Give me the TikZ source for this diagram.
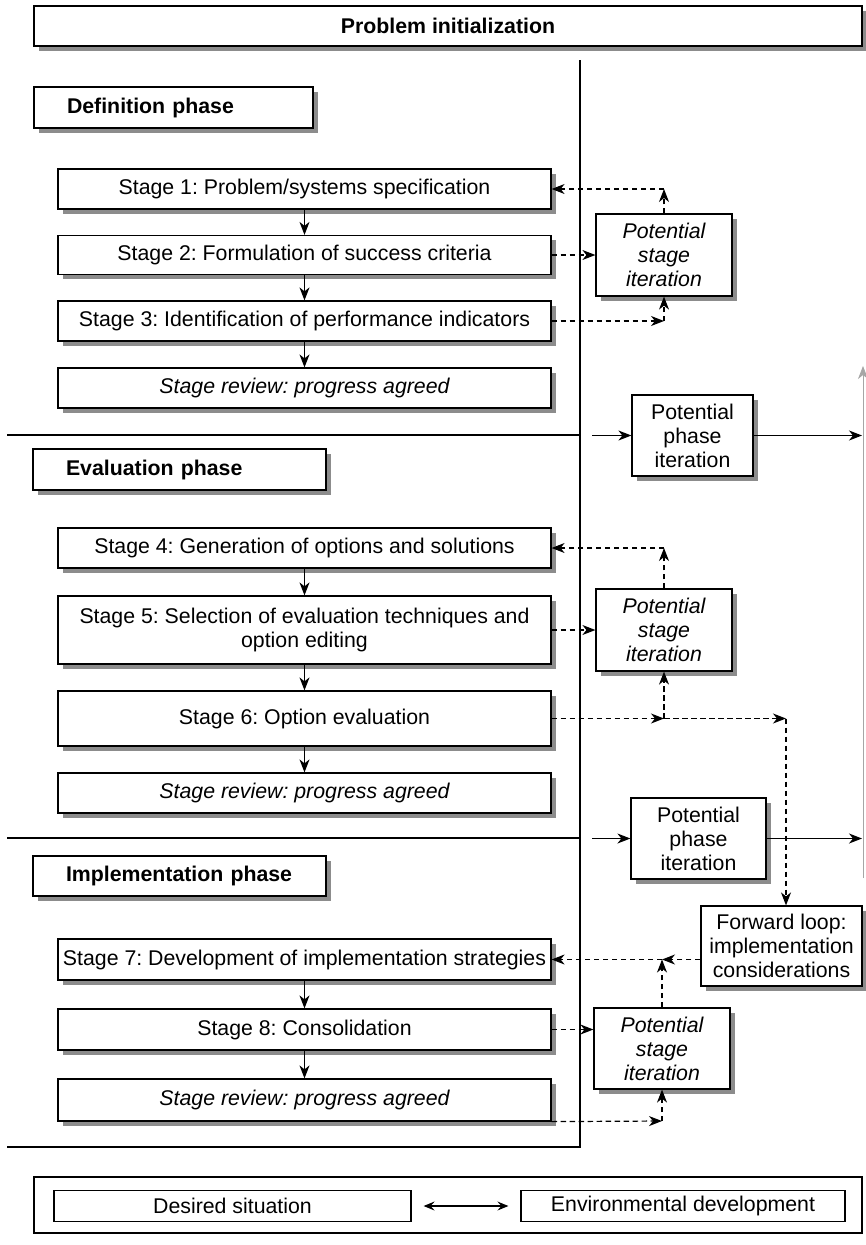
\documentclass[tikz,border=0pt]{standalone}
\usepackage{fontspec}
\setmainfont{Liberation Sans}
\usetikzlibrary{arrows.meta,shadows,positioning}
\newcommand{\dfont}{\fontsize{21.3}{24}\selectfont\frenchspacing}
\tikzset{
  boxshadow/.style={drop shadow={shadow xshift=4.5pt,shadow yshift=-4.5pt,fill=black!45,opacity=1}},
  box/.style={draw,line width=1.2pt,fill=white,inner sep=0pt,align=center,font=\dfont,boxshadow},
  phasebox/.style={box,font=\dfont\bfseries,align=left,execute at begin node=\hspace*{33pt}},
  flatbox/.style={draw,line width=1.2pt,fill=white,inner sep=0pt,align=center,font=\dfont},
  stagebox/.style={box,minimum width=493pt},
  iterbox/.style={box,font=\dfont\itshape,minimum width=136pt},
  tip/.style={-{Stealth[length=13pt,width=10pt,inset=4pt]}},
  flow/.style={tip,line width=1.2pt},
  loop/.style={tip,line width=1.2pt,dash pattern=on 5.5pt off 3.5pt},
  rule/.style={line width=1.3pt}
}
\begin{document}
\begin{tikzpicture}[x=1pt,y=-1pt]
\useasboundingbox (0,0) rectangle (865,1245);

% frame lines separating the phases
\draw[rule] (580,60) -- (580,1147) -- (7,1147);
\draw[rule] (7,435) -- (580,435);
\draw[rule] (7,838) -- (580,838);

% header
\node[box,font=\dfont\bfseries,minimum width=828pt,minimum height=40pt] (init) at (448,26) {Problem initialization};

% definition phase
\node[phasebox,text width=279pt,minimum height=41pt] (defph) at (173.5,107.5) {Definition phase};
\node[stagebox,minimum height=40pt] (s1) at (304.5,189) {Stage 1: Problem/systems specification};
\node[stagebox,minimum height=39pt] (s2) at (304.5,255) {Stage 2: Formulation of success criteria};
\node[stagebox,minimum height=40pt] (s3) at (304.5,321) {Stage 3: Identification of performance indicators};
\node[stagebox,minimum height=40pt,font=\dfont\itshape] (r1) at (304.5,388) {Stage review: progress agreed};

% evaluation phase
\node[phasebox,text width=293pt,minimum height=41pt] (evph) at (179.5,469.5) {Evaluation phase};
\node[stagebox,minimum height=40pt] (s4) at (304.5,548) {Stage 4: Generation of options and solutions};
\node[stagebox,minimum height=68pt] (s5) at (304.5,630) {Stage 5: Selection of evaluation techniques and\\option editing};
\node[stagebox,minimum height=55pt] (s6) at (304.5,718.5) {Stage 6: Option evaluation};
\node[stagebox,minimum height=40pt,font=\dfont\itshape] (r2) at (304.5,793) {Stage review: progress agreed};

% implementation phase
\node[phasebox,text width=293pt,minimum height=40pt] (imph) at (179.5,876) {Implementation phase};
\node[stagebox,minimum height=41pt] (s7) at (304.5,959.5) {Stage 7: Development of implementation strategies};
\node[stagebox,minimum height=41pt] (s8) at (304.5,1029.5) {Stage 8: Consolidation};
\node[stagebox,minimum height=42pt,font=\dfont\itshape] (r3) at (304.5,1100) {Stage review: progress agreed};

% iteration boxes
\node[iterbox,minimum height=82pt] (it1) at (664,255) {Potential\\stage\\iteration};
\node[iterbox,minimum height=82pt] (it2) at (664,630) {Potential\\stage\\iteration};
\node[iterbox,minimum height=81pt] (it3) at (662,1048.5) {Potential\\stage\\iteration};
\node[box,minimum width=121pt,minimum height=81pt] (ph1) at (692.5,435.5) {Potential\\phase\\iteration};
\node[box,minimum width=135pt,minimum height=81pt] (ph2) at (698.5,838.5) {Potential\\phase\\iteration};
\node[box,minimum width=161pt,minimum height=80pt] (fwd) at (781.5,946) {Forward loop:\\implementation\\considerations};

% stage sequence
\foreach \a/\b in {s1/s2,s2/s3,s3/r1,s4/s5,s5/s6,s6/r2,s7/s8,s8/r3}
  \draw[flow] (\a.south) -- (\b.north);

% phase iteration
\coordinate (p1in) at (592,435.5);
\coordinate (p1out) at (862,435.5);
\coordinate (p2in) at (592,838.5);
\coordinate (p2out) at (862,838.5);
\draw[flow] (p1in) -- (ph1.west);
\draw[flow] (ph1.east) -- (p1out);
\draw[flow] (p2in) -- (ph2.west);
\draw[flow] (ph2.east) -- (p2out);

% return path along the right edge
\coordinate (rb) at (863,878);
\coordinate (rt) at (863,366);
\draw[tip,line width=0.8pt,black!35] (rb) -- (rt);

% stage iteration loops, definition phase
\coordinate (j1) at (664,189);
\coordinate (j3) at (664,321);
\draw[loop] (it1.north) -- (j1);
\draw[loop] (j1) -- (s1.east);
\draw[loop] (s2.east) -- (it1.west);
\draw[loop] (s3.east) -- (j3);
\draw[loop] (j3) -- (it1.south);

% stage iteration loops, evaluation phase
\coordinate (j4) at (664,548);
\coordinate (j6) at (664,718.5);
\coordinate (j6b) at (786,718.5);
\draw[loop] (it2.north) -- (j4);
\draw[loop] (j4) -- (s4.east);
\draw[loop] (s5.east) -- (it2.west);
\draw[loop] (s6.east) -- (j6);
\draw[loop] (j6) -- (it2.south);
\draw[loop] (j6) -- (j6b);
\draw[loop] (j6b) -- (fwd.north -| j6b);

% stage iteration loops, implementation phase
\coordinate (j7) at (662,959.5);
\coordinate (j9) at (662,1121);
\draw[loop] (fwd.west |- j7) -- (j7);
\draw[loop] (it3.north) -- (j7);
\draw[loop] (j7) -- (s7.east);
\draw[loop] (s8.east) -- (it3.west |- s8.east);
\draw[loop] (r3.south east) -- (j9);
\draw[loop] (j9) -- (it3.south);

% legend
\node[flatbox,minimum width=828pt,minimum height=56pt] (legend) at (448,1205) {};
\node[flatbox,minimum width=357pt,minimum height=31pt] (desired) at (232.5,1206) {Desired situation};
\node[flatbox,minimum width=324pt,minimum height=31pt] (envdev) at (683,1206) {Environmental development};
\draw[{Stealth[length=11pt,width=9pt,inset=4pt]}-{Stealth[length=11pt,width=9pt,inset=4pt]},line width=1.2pt] ([xshift=12pt]desired.east) -- ([xshift=-12pt]envdev.west);
\end{tikzpicture}
\end{document}
